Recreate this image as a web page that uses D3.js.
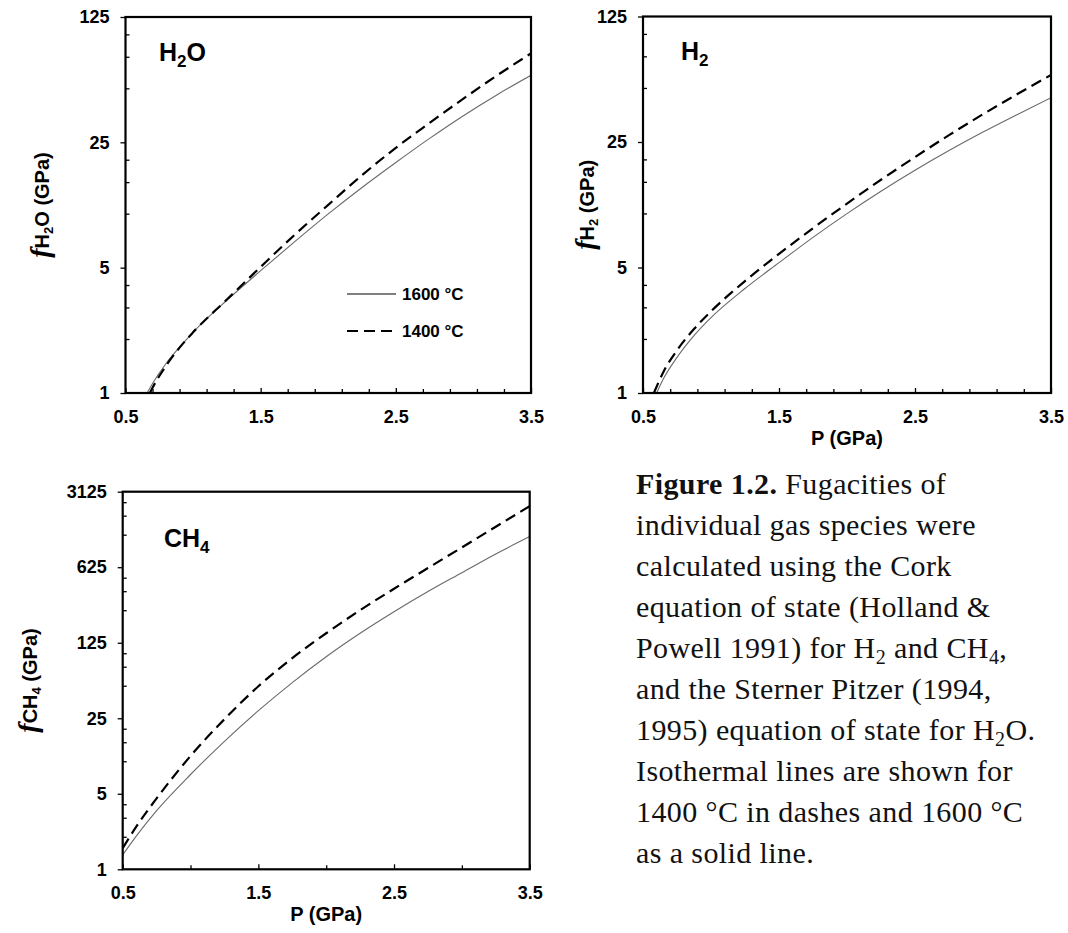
<!DOCTYPE html>
<html>
<head>
<meta charset="utf-8">
<script src="https://cdn.jsdelivr.net/npm/d3@7"></script>
<style>
body { margin: 0; background: #fff; }
svg text { white-space: pre; }
</style>
</head>
<body>
<svg id="fig" width="1068" height="933"></svg>
<script>
// ---- data (P in GPa, fugacity in GPa) ----
const h2oP1600 = [0.66, 0.7, 0.8, 0.9, 1.0, 1.25, 1.5, 1.75, 2.0, 2.25, 2.5, 2.75, 3.0, 3.25, 3.5]
const h2oF1600 = [1.0, 1.13, 1.46, 1.80, 2.18, 3.29, 4.81, 6.96, 9.97, 14.0, 19.3, 26.3, 35.2, 46.1, 59.1]
const h2oP1400 = [0.68, 0.7, 0.8, 0.9, 1.0, 1.25, 1.5, 1.75, 2.0, 2.25, 2.5, 2.75, 3.0, 3.25, 3.5]
const h2oF1400 = [1.0, 1.07, 1.42, 1.79, 2.18, 3.32, 5.05, 7.61, 11.2, 16.4, 23.3, 32.1, 43.8, 59.1, 78.3]

const h2P1600 = [0.6, 0.65, 0.75, 0.875, 1.0, 1.25, 1.5, 1.75, 2.0, 2.25, 2.5, 2.75, 3.0, 3.25, 3.5]
const h2F1600 = [1.0, 1.20, 1.58, 2.09, 2.63, 3.82, 5.32, 7.36, 9.98, 13.3, 17.4, 22.4, 28.4, 35.5, 44.1]
const h2P1400 = [0.58, 0.65, 0.75, 0.875, 1.0, 1.25, 1.5, 1.75, 2.0, 2.25, 2.5, 2.75, 3.0, 3.25, 3.5]
const h2F1400 = [1.0, 1.31, 1.73, 2.27, 2.85, 4.20, 5.95, 8.28, 11.35, 15.4, 20.6, 27.3, 35.7, 46.1, 59.1]

const ch4P = [0.5, 0.6, 0.75, 1.0, 1.25, 1.5, 1.75, 2.0, 2.25, 2.5, 2.75, 3.0, 3.25, 3.5]
const ch4F1600 = [1.36, 2.03, 3.49, 7.54, 15.3, 29.4, 53.5, 92.8, 153, 242, 372, 556, 829, 1200]
const ch4F1400 = [1.57, 2.48, 4.53, 11.2, 24.5, 49.4, 90.0, 153, 250, 395, 614, 953, 1480, 2300]

const xMajor = [0.5, 1.5, 2.5, 3.5]
const xMinorFine = [0.7, 0.9, 1.1, 1.3, 1.7, 1.9, 2.1, 2.3, 2.7, 2.9, 3.1, 3.3]
const xMinorCoarse = [1.0, 2.0, 3.0]
const yMajorSmall = [1, 5, 25, 125]
const yMinorSmall = [2, 3, 4, 10, 15, 20, 50, 75, 100]
const yMajorLarge = [1, 5, 25, 125, 625, 3125]
const yMinorLarge = [2, 3, 4, 10, 15, 20, 50, 75, 100, 250, 375, 500, 1250, 1875, 2500]

const legendLabels = ["1600 °C", "1400 °C"]

const captionLines = [
    "**Figure 1.2.** Fugacities of",
    "individual gas species were",
    "calculated using the Cork",
    "equation of state (Holland &",
    "Powell 1991) for H_2 and CH_4,",
    "and the Sterner Pitzer (1994,",
    "1995) equation of state for H_2O.",
    "Isothermal lines are shown for",
    "1400 °C in dashes and 1600 °C",
    "as a solid line."
]

const sans = "'Liberation Sans', Arial, sans-serif"
const serif = "'Liberation Serif', 'Times New Roman', serif"
const dash = "11,6"

const svg = d3.select("#fig")
    .attr("font-family", sans)
    .attr("font-weight", "bold")
svg.append("rect").attr("width", 1068).attr("height", 933).attr("fill", "#fff")

function styleAxis(g, size) {
    g.attr("font-size", size)
        .attr("font-family", sans)
        .attr("font-weight", "bold")
    g.select(".domain").remove()
    g.selectAll(".tick line").attr("stroke", "#000").attr("stroke-width", 1.3)
    g.selectAll(".tick text").attr("fill", "#000")
}

function panel(o) {
    const x = d3.scaleLinear().domain([0.5, 3.5]).range([o.left, o.right])
    const y = d3.scaleLog().base(5).domain([1, o.yMax]).range([o.bottom, o.top])
    const g = svg.append("g")

    const clipId = "clip" + o.id
    g.append("clipPath").attr("id", clipId)
        .append("rect")
        .attr("x", o.left).attr("y", o.top)
        .attr("width", o.right - o.left).attr("height", o.bottom - o.top)

    // y axis: major ticks outside with labels, minor ticks inside
    g.append("g")
        .attr("transform", `translate(${o.left},0)`)
        .call(d3.axisLeft(y).tickValues(o.yMajor).tickSizeInner(5).tickSizeOuter(0)
            .tickPadding(11).tickFormat(d => String(d)))
        .call(a => styleAxis(a, 18))
    g.append("g")
        .attr("transform", `translate(${o.left},0)`)
        .call(d3.axisRight(y).tickValues(o.yMinor).tickSizeInner(4).tickSizeOuter(0).tickFormat(""))
        .call(a => styleAxis(a, 18))

    // x axis: ticks point inward, labels below
    g.append("g")
        .attr("transform", `translate(0,${o.bottom})`)
        .call(d3.axisBottom(x).tickValues(xMajor).tickSizeInner(-5).tickSizeOuter(0)
            .tickPadding(17).tickFormat(d3.format(".1f")))
        .call(a => styleAxis(a, 18))
    g.append("g")
        .attr("transform", `translate(0,${o.bottom})`)
        .call(d3.axisBottom(x).tickValues(o.xMinor).tickSizeInner(-4).tickSizeOuter(0).tickFormat(""))
        .call(a => styleAxis(a, 18))

    const line = d3.line()
        .x(d => x(d[0]))
        .y(d => y(d[1]))
        .curve(d3.curveMonotoneX)

    const curves = g.append("g").attr("clip-path", `url(#${clipId})`)
    curves.append("path")
        .datum(d3.zip(o.p1600, o.f1600))
        .attr("fill", "none")
        .attr("stroke", "#6a6a6a")
        .attr("stroke-width", 1.1)
        .attr("d", line)
    curves.append("path")
        .datum(d3.zip(o.p1400, o.f1400))
        .attr("fill", "none")
        .attr("stroke", "#000")
        .attr("stroke-width", 2.2)
        .attr("stroke-dasharray", dash)
        .attr("d", line)

    g.append("rect")
        .attr("x", o.left).attr("y", o.top)
        .attr("width", o.right - o.left).attr("height", o.bottom - o.top)
        .attr("fill", "none")
        .attr("stroke", "#000")
        .attr("stroke-width", 2.2)

    // species name in the corner
    const t = g.append("text")
        .attr("x", o.titleX).attr("y", o.titleY)
        .attr("font-size", 25)
    t.append("tspan").text(o.species[0])
    t.append("tspan").attr("font-size", 17).attr("dy", 6).text(o.species[1])
    if (o.species[2]) t.append("tspan").attr("dy", -6).text(o.species[2])

    // y axis title
    const yl = g.append("text")
        .attr("transform", `translate(${o.yLabelX},${(o.top + o.bottom) / 2}) rotate(-90)`)
        .attr("text-anchor", "middle")
        .attr("font-size", 20)
    yl.append("tspan")
        .attr("font-family", serif)
        .attr("font-style", "italic")
        .attr("font-size", 28)
        .text("f")
    yl.append("tspan").text(o.species[0])
    yl.append("tspan").attr("font-size", 13).attr("dy", 4).text(o.species[1])
    yl.append("tspan").attr("dy", -4).text((o.species[2] || "") + " (GPa)")

    if (o.xLabel) {
        g.append("text")
            .attr("x", (o.left + o.right) / 2)
            .attr("y", o.bottom + 52)
            .attr("text-anchor", "middle")
            .attr("font-size", 20)
            .text("P (GPa)")
    }

    if (o.legend) {
        const lg = g.append("g")
        const rows = [
            { label: legendLabels[0], width: 1.1, dash: null },
            { label: legendLabels[1], width: 2.2, dash: dash }
        ]
        rows.forEach((r, i) => {
            const yy = 294 + i * 37
            lg.append("line")
                .attr("x1", 347).attr("x2", 396)
                .attr("y1", yy).attr("y2", yy)
                .attr("stroke", "#000")
                .attr("stroke-width", r.width)
                .attr("stroke-dasharray", r.dash)
            lg.append("text")
                .attr("x", 402).attr("y", yy + 6)
                .attr("font-size", 17)
                .text(r.label)
        })
    }
}

panel({
    id: 1, left: 125.5, right: 531, top: 17, bottom: 393,
    yMax: 125, yMajor: yMajorSmall, yMinor: yMinorSmall, xMinor: xMinorFine,
    p1600: h2oP1600, f1600: h2oF1600, p1400: h2oP1400, f1400: h2oF1400,
    species: ["H", "2", "O"], titleX: 159, titleY: 61, yLabelX: 49,
    legend: true, xLabel: false
})

panel({
    id: 2, left: 643, right: 1051, top: 16.5, bottom: 393,
    yMax: 125, yMajor: yMajorSmall, yMinor: yMinorSmall, xMinor: xMinorFine,
    p1600: h2P1600, f1600: h2F1600, p1400: h2P1400, f1400: h2F1400,
    species: ["H", "2", ""], titleX: 681, titleY: 60, yLabelX: 594,
    legend: false, xLabel: true
})

panel({
    id: 3, left: 122.7, right: 529.7, top: 491.7, bottom: 869.3,
    yMax: 3125, yMajor: yMajorLarge, yMinor: yMinorLarge, xMinor: xMinorCoarse,
    p1600: ch4P, f1600: ch4F1600, p1400: ch4P, f1400: ch4F1400,
    species: ["CH", "4", ""], titleX: 164, titleY: 547, yLabelX: 37,
    legend: false, xLabel: true
})

// caption
const cap = svg.append("text")
    .style("font-family", serif)
    .style("font-weight", "normal")
    .style("font-size", "30px")
    .style("letter-spacing", "0.4px")
    .attr("fill", "#111")

captionLines.forEach((line, i) => {
    const row = cap.append("tspan").attr("x", 636).attr("y", 494 + i * 41)
    let shift = 0
    line.split(/(\*\*[^*]+\*\*|_\d)/).filter(s => s.length).forEach(tok => {
        if (tok.startsWith("**")) {
            row.append("tspan").style("font-weight", "bold").attr("dy", -shift).text(tok.slice(2, -2))
            shift = 0
        } else if (tok.startsWith("_")) {
            row.append("tspan").style("font-size", "20px").attr("dy", 6 - shift).text(tok.slice(1))
            shift = 6
        } else {
            row.append("tspan").attr("dy", -shift).text(tok)
            shift = 0
        }
    })
})
</script>
</body>
</html>
